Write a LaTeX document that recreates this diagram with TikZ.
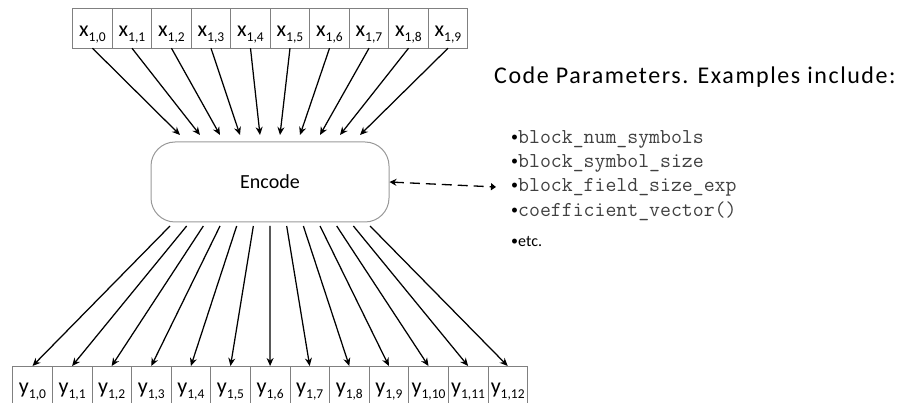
\documentclass[tikz,border=0pt]{standalone}
\usepackage{fontspec}
\setmainfont{Carlito}
\newfontfamily\headfont[LetterSpace=6.5]{Carlito}
\usepackage{tikz}
\usetikzlibrary{arrows.meta,positioning}

\newcommand{\cellsym}[2]{{\fontsize{22}{22}\selectfont #1}\raisebox{-5pt}{\fontsize{13.5}{13.5}\selectfont #2}}
\newcommand{\dotitem}[1]{\makebox[7pt][l]{\raisebox{1.5pt}{\fontsize{14}{14}\selectfont\textbullet}}#1}

\begin{document}
\begin{tikzpicture}[x=1pt,y=-1pt,
	cell/.style={draw=gray, line width=0.8pt, inner sep=0pt, outer sep=0pt, minimum height=39.5pt, text height=19pt, text depth=2pt},
	flow/.style={-{Stealth[length=8pt,width=7pt]}, line width=1.25pt}]
		\useasboundingbox (0,0) rectangle (897,403);
		% input symbols
		\foreach \i in {0,...,9}
			\node[cell, minimum width=39.5pt] (x\i) at (92.5+39.5*\i, 28.5) {\cellsym{x}{1,\i}};
		% output symbols
		\foreach \i in {0,...,12}
			\node[cell, minimum width=39.6pt, minimum height=42pt, text height=16pt, text depth=4pt] (y\i) at (32.5+39.6*\i, 387) {\cellsym{y}{1,\i}};
		\node[draw=gray!80, line width=1pt, rounded corners=24pt, minimum width=238pt, minimum height=80pt] (enc) at (270,182) {\fontsize{20}{20}\selectfont Encode};
		\foreach \i in {0,...,9} {
			\coordinate (in\i) at (180+20*\i, 135);
			\draw[flow] (x\i.south) -- (in\i);
		}
		\foreach \i in {0,...,12} {
			\coordinate (out\i) at (170+16.67*\i, 226);
			\draw[flow] (out\i) -- (y\i.north);
		}
		\node[anchor=west, inner sep=0pt] (code) at (494,77) {\headfont\fontsize{24}{24}\selectfont Code Parameters. Examples include:};
		\foreach \p [count=\k] in {block\_num\_symbols, block\_symbol\_size, block\_field\_size\_exp, coefficient\_vector()}
			\node[anchor=west, inner sep=0pt] (p\k) at (511, 115+24*\k) {\dotitem{\color{black!75}\ttfamily\fontsize{21.2}{21.2}\selectfont\p}};
		\node[anchor=west, inner sep=0pt] (p5) at (511, 242) {\dotitem{\fontsize{16}{16}\selectfont etc.}};
		\coordinate (parm) at ([xshift=-15pt]p3.west);
		\draw[line width=1.3pt, dash pattern=on 10pt off 6pt, {Stealth[length=7pt,width=7pt]}-{Triangle[length=5pt,width=7pt]}] (enc.east) -- (parm);
	\end{tikzpicture}
\end{document}
